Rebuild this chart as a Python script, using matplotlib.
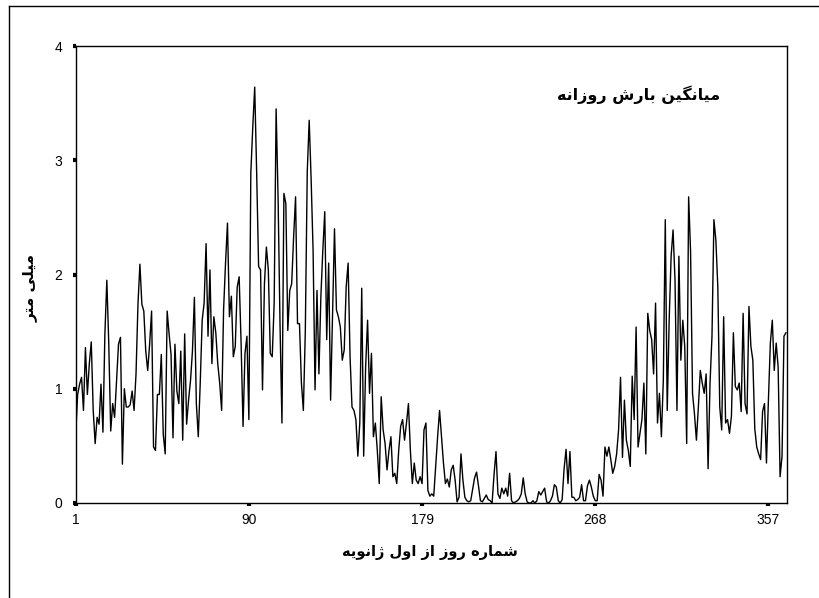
import matplotlib
matplotlib.use("Agg")
import matplotlib.pyplot as plt
from matplotlib.lines import Line2D
import numpy as np

# ---- data: mean daily rainfall (mm), by month (leap year, 366 days) ----
jan = [0.60, 0.95, 1.04, 1.10, 0.81, 1.36, 0.95, 1.22, 1.41, 0.81, 0.52, 0.75, 0.69, 1.04, 0.62, 1.48,
       1.95, 1.39, 0.63, 0.87, 0.75, 1.07, 1.39, 1.45, 0.34, 1.00, 0.84, 0.84, 0.86, 0.98, 0.81]
feb = [1.13, 1.74, 2.09, 1.74, 1.68, 1.33, 1.16, 1.39, 1.68, 0.49, 0.46, 0.95, 0.95, 1.30, 0.60, 0.43,
       1.68, 1.48, 1.30, 0.57, 1.39, 0.98, 0.87, 1.33, 0.55, 1.48, 0.69, 0.90, 1.07]
mar = [1.33, 1.80, 0.87, 0.58, 1.05, 1.60, 1.75, 2.27, 1.46, 2.04, 1.22, 1.63, 1.49, 1.22, 1.05, 0.81,
       1.69, 2.10, 2.45, 1.63, 1.81, 1.28, 1.37, 1.89, 1.98, 1.40, 0.67, 1.31, 1.46, 0.73, 2.89]
apr = [3.29, 3.64, 2.89, 2.07, 2.04, 0.99, 1.92, 2.24, 2.04, 1.31, 1.28, 1.75, 3.45, 2.68, 1.57, 0.70,
       2.71, 2.62, 1.51, 1.86, 1.92, 2.33, 2.68, 1.57, 1.57, 1.05, 0.81, 1.50, 2.90, 3.35]
may = [2.83, 2.21, 0.99, 1.86, 1.13, 1.81, 2.21, 2.55, 1.43, 2.10, 0.90, 1.63, 2.40, 1.69, 1.63, 1.54,
       1.25, 1.34, 1.89, 2.10, 1.28, 0.84, 0.81, 0.73, 0.41, 0.70, 1.88, 0.41, 1.19, 1.60, 0.96]
jun = [1.31, 0.58, 0.70, 0.46, 0.17, 0.93, 0.64, 0.52, 0.29, 0.46, 0.58, 0.23, 0.26, 0.17, 0.46, 0.67,
       0.73, 0.55, 0.70, 0.87, 0.46, 0.17, 0.35, 0.20, 0.17, 0.23, 0.17, 0.64, 0.70, 0.11]
jul = [0.06, 0.08, 0.06, 0.32, 0.58, 0.81, 0.58, 0.35, 0.17, 0.21, 0.14, 0.29, 0.33, 0.20, 0.01, 0.05,
       0.43, 0.20, 0.05, 0.02, 0.01, 0.02, 0.12, 0.22, 0.27, 0.15, 0.02, 0.01, 0.04, 0.07, 0.03]
aug = [0.02, 0.00, 0.25, 0.45, 0.08, 0.04, 0.13, 0.08, 0.13, 0.06, 0.26, 0.02, 0.00, 0.01, 0.02, 0.04,
       0.08, 0.22, 0.08, 0.01, 0.00, 0.00, 0.02, 0.00, 0.02, 0.10, 0.07, 0.10, 0.13, 0.01, 0.00]
sep = [0.02, 0.06, 0.16, 0.14, 0.02, 0.00, 0.03, 0.30, 0.47, 0.17, 0.45, 0.05, 0.05, 0.02, 0.03, 0.05,
       0.16, 0.02, 0.02, 0.15, 0.20, 0.14, 0.06, 0.02, 0.02, 0.25, 0.20, 0.06, 0.49, 0.41]
oct_ = [0.49, 0.38, 0.26, 0.32, 0.43, 0.64, 1.10, 0.40, 0.90, 0.55, 0.46, 0.32, 1.11, 0.73, 1.54, 0.49,
        0.61, 0.73, 1.05, 0.43, 1.66, 1.51, 1.43, 1.13, 1.75, 0.70, 0.96, 0.58, 1.08, 2.48, 0.81]
nov = [1.60, 2.16, 2.39, 1.95, 0.81, 2.16, 1.25, 1.60, 1.37, 0.52, 2.68, 2.20, 0.96, 0.78, 0.55, 0.84,
       1.16, 1.05, 0.96, 1.13, 0.30, 1.05, 1.46, 2.48, 2.30, 1.89, 0.84, 0.64, 1.63, 0.70]
dec = [0.73, 0.61, 0.76, 1.49, 1.02, 0.99, 1.05, 0.80, 1.66, 0.87, 0.78, 1.72, 1.37, 1.25, 0.65, 0.49,
       0.43, 0.38, 0.80, 0.87, 0.35, 0.90, 1.40, 1.60, 1.16, 1.40, 1.19, 0.23, 0.41, 1.46, 1.49]

x_ticks = [1, 90, 179, 268, 357]
y_ticks = [0, 1, 2, 3, 4]

title_txt = "میانگین بارش روزانه"
ylabel_txt = "میلی متر"
xlabel_txt = "شماره روز از اول ژانویه"

# ---- minimal Arabic-script shaping (presentation forms + RTL order) ----
FORMS = {
    '\u0627': ('\uFE8D', '\uFE8E', None, None),      # alef
    '\u0628': ('\uFE8F', '\uFE90', '\uFE91', '\uFE92'),  # beh
    '\u062A': ('\uFE95', '\uFE96', '\uFE97', '\uFE98'),  # teh
    '\u0631': ('\uFEAD', '\uFEAE', None, None),      # reh
    '\u0632': ('\uFEAF', '\uFEB0', None, None),      # zain
    '\u0698': ('\uFB8A', '\uFB8B', None, None),      # jeh
    '\u0634': ('\uFEB5', '\uFEB6', '\uFEB7', '\uFEB8'),  # sheen
    '\u0644': ('\uFEDD', '\uFEDE', '\uFEDF', '\uFEE0'),  # lam
    '\u0645': ('\uFEE1', '\uFEE2', '\uFEE3', '\uFEE4'),  # meem
    '\u0646': ('\uFEE5', '\uFEE6', '\uFEE7', '\uFEE8'),  # noon
    '\u0647': ('\uFEE9', '\uFEEA', '\uFEEB', '\uFEEC'),  # heh
    '\u0648': ('\uFEED', '\uFEEE', None, None),      # waw
    '\u06CC': ('\uFBFC', '\uFBFD', '\uFBFE', '\uFBFF'),  # farsi yeh
    '\u06AF': ('\uFB92', '\uFB93', '\uFB94', '\uFB95'),  # gaf
}


def shape(text):
    out = []
    for i, ch in enumerate(text):
        if ch not in FORMS:
            out.append(ch)
            continue
        iso, fin, ini, med = FORMS[ch]
        prev = text[i - 1] if i > 0 else None
        nxt = text[i + 1] if i + 1 < len(text) else None
        jp = prev in FORMS and FORMS[prev][2] is not None
        jn = ini is not None and nxt in FORMS
        if jp and jn:
            out.append(med)
        elif jp:
            out.append(fin)
        elif jn:
            out.append(ini)
        else:
            out.append(iso)
    return ''.join(reversed(out))


rain = np.array(jan + feb + mar + apr + may + jun + jul + aug + sep + oct_ + nov + dec)
days = np.arange(1, len(rain) + 1)

fig = plt.figure(figsize=(8.19, 5.98), dpi=100)
ax = fig.add_axes([75.7 / 819, 1 - 503 / 598, (786.7 - 75.7) / 819, (503 - 46) / 598])

ax.plot(days, rain, color='black', lw=1.0, antialiased=True)
ax.set_xlim(1, 366.4)
ax.set_ylim(0, 4)
ax.set_xticks(x_ticks)
ax.set_yticks(y_ticks)
for s in ax.spines.values():
    s.set_linewidth(1.0)
    s.set_color('black')
ax.tick_params(direction='out', length=2.5, width=3, colors='black',
               labelsize=10, pad=5)
for lab in ax.get_xticklabels() + ax.get_yticklabels():
    lab.set_fontfamily('Liberation Sans')
ax.tick_params(axis='y', pad=7)

arab = ['DejaVu Sans']
ax.text(0.791, 0.893, shape(title_txt), transform=ax.transAxes, ha='center', va='center',
        fontsize=11.5, family=arab, fontweight='bold')
fig.text(30 / 819, 1 - 288 / 598, shape(ylabel_txt), rotation=90, ha='center', va='center',
         fontsize=11, family=arab, fontweight='bold')
fig.text(430 / 819, 1 - 552 / 598, shape(xlabel_txt), ha='center', va='center',
         fontsize=10.5, family=arab, fontweight='bold')

# outer frame (left and top edges visible)
fig.add_artist(Line2D([9 / 819, 9 / 819], [0, 1 - 6 / 598], transform=fig.transFigure,
                      color='black', lw=1.0))
fig.add_artist(Line2D([9 / 819, 1], [1 - 6 / 598, 1 - 6 / 598], transform=fig.transFigure,
                      color='black', lw=1.0))

fig.savefig('out.png', dpi=100)
